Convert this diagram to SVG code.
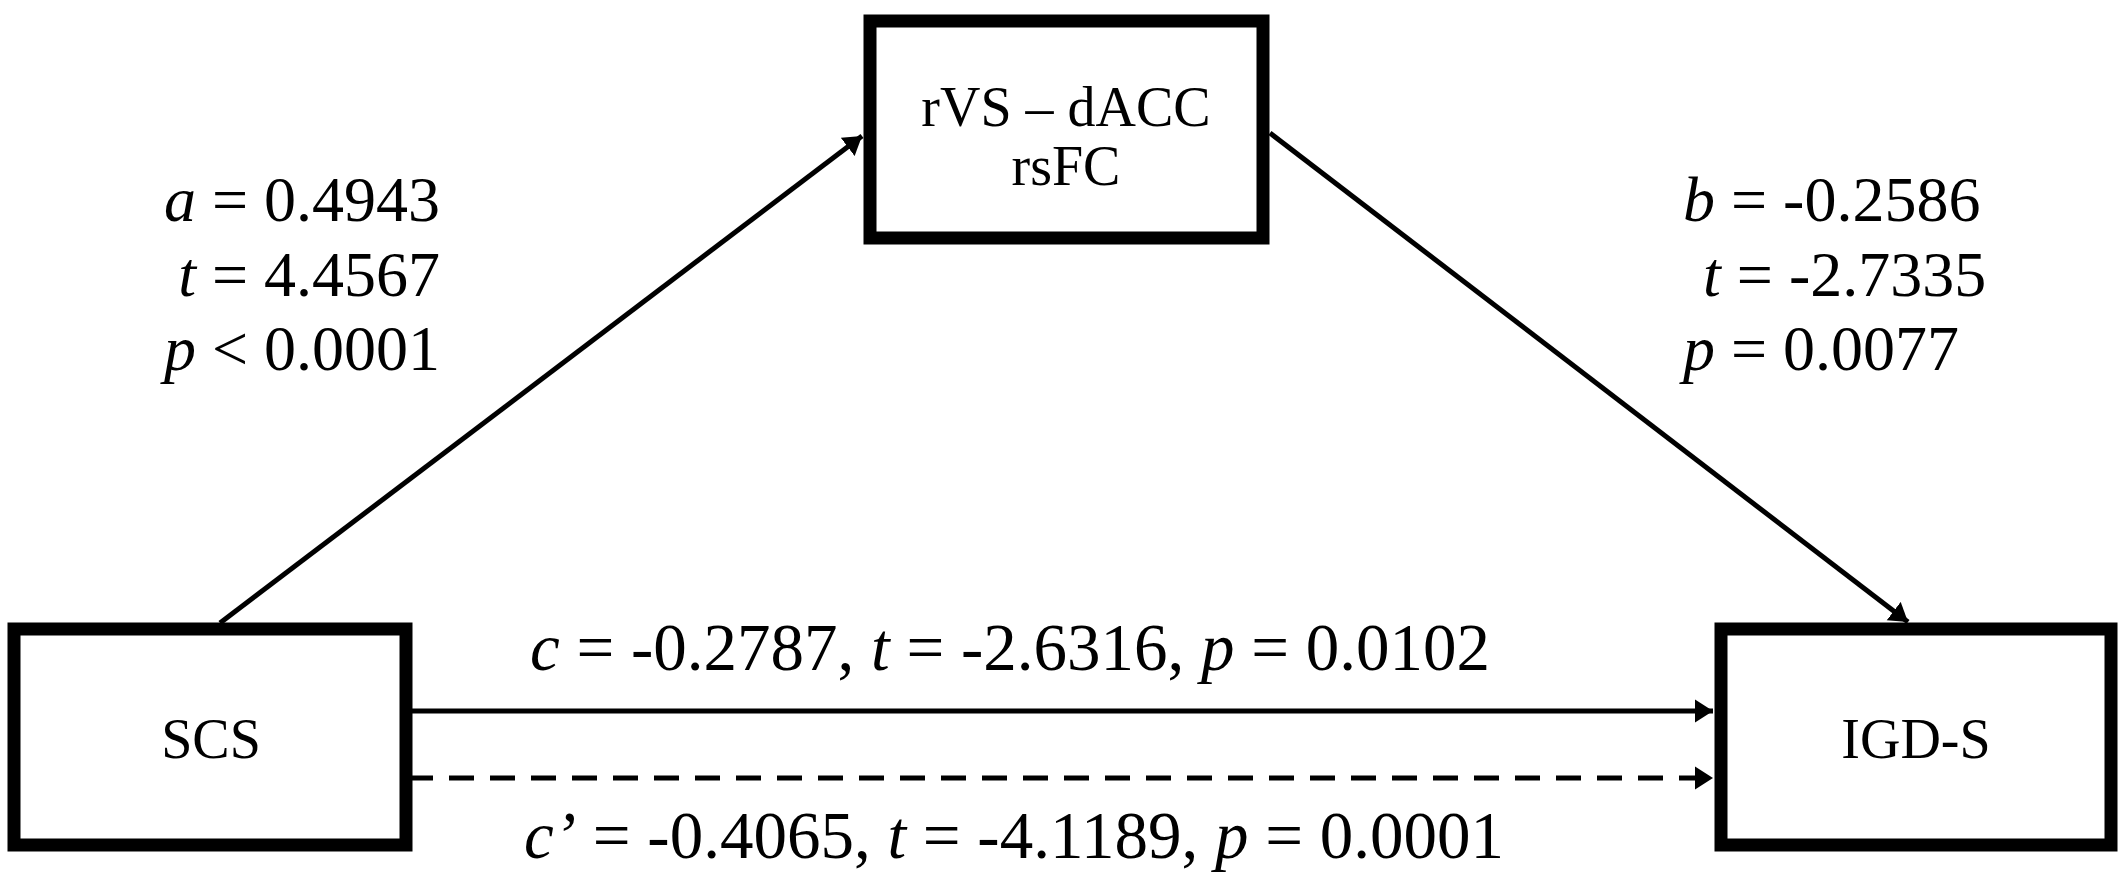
<svg xmlns="http://www.w3.org/2000/svg" width="2128" height="882" viewBox="0 0 2128 882">
<style>
.box{fill:#fff;stroke:#000;stroke-width:13}
.node{font-family:"Liberation Serif","Times New Roman",serif;font-size:56px;fill:#000;text-anchor:middle}
.lab{font-family:"Liberation Serif","Times New Roman",serif;font-size:64px;fill:#000}
.mid{font-family:"Liberation Serif","Times New Roman",serif;font-size:67px;fill:#000;text-anchor:middle}
.conn{fill:none;stroke:#000;stroke-width:5}
.dash{stroke-dasharray:25 16;stroke-dashoffset:4}
</style>
<defs>
<marker id="arr" markerUnits="userSpaceOnUse" markerWidth="20" markerHeight="24" refX="18" refY="12" orient="auto">
<path d="M0,0.5 L18,12 L0,23.5 z" fill="#000"/>
</marker>
</defs>
<rect width="2128" height="882" fill="#fff"/>
<g id="connectors">
<line class="conn" x1="220" y1="623" x2="862" y2="136" marker-end="url(#arr)"/>
<line class="conn" x1="1270" y1="133" x2="1908" y2="622" marker-end="url(#arr)"/>
<line class="conn" x1="412" y1="711" x2="1713" y2="711" marker-end="url(#arr)"/>
<line class="conn dash" x1="412" y1="778" x2="1713" y2="778" marker-end="url(#arr)"/>
</g>
<g id="node-mediator">
<rect class="box" x="870" y="21" width="393" height="217"/>
<text class="node" x="1066" y="126">rVS – dACC</text>
<text class="node" x="1066" y="185">rsFC</text>
</g>
<g id="node-scs">
<rect class="box" x="14" y="629" width="392" height="216"/>
<text class="node" x="211" y="758">SCS</text>
</g>
<g id="node-igds">
<rect class="box" x="1721" y="629" width="390" height="216"/>
<text class="node" x="1916" y="758">IGD-S</text>
</g>
<g id="labels">
<text class="lab" x="440" y="221" text-anchor="end"><tspan font-style="italic">a</tspan> = 0.4943</text>
<text class="lab" x="440" y="296" text-anchor="end"><tspan font-style="italic">t</tspan> = 4.4567</text>
<text class="lab" x="440" y="370" text-anchor="end"><tspan font-style="italic">p</tspan> &lt; 0.0001</text>
<text class="lab" x="1683" y="221"><tspan font-style="italic">b</tspan> = -0.2586</text>
<text class="lab" x="1703" y="296"><tspan font-style="italic">t</tspan> = -2.7335</text>
<text class="lab" x="1683" y="370"><tspan font-style="italic">p</tspan> = 0.0077</text>
<text class="mid" x="1010" y="670"><tspan font-style="italic">c</tspan> = -0.2787, <tspan font-style="italic">t</tspan> = -2.6316, <tspan font-style="italic">p</tspan> = 0.0102</text>
<text class="mid" x="1014" y="858"><tspan font-style="italic">c’</tspan> = -0.4065, <tspan font-style="italic">t</tspan> = -4.1189, <tspan font-style="italic">p</tspan> = 0.0001</text>
</g>
</svg>
